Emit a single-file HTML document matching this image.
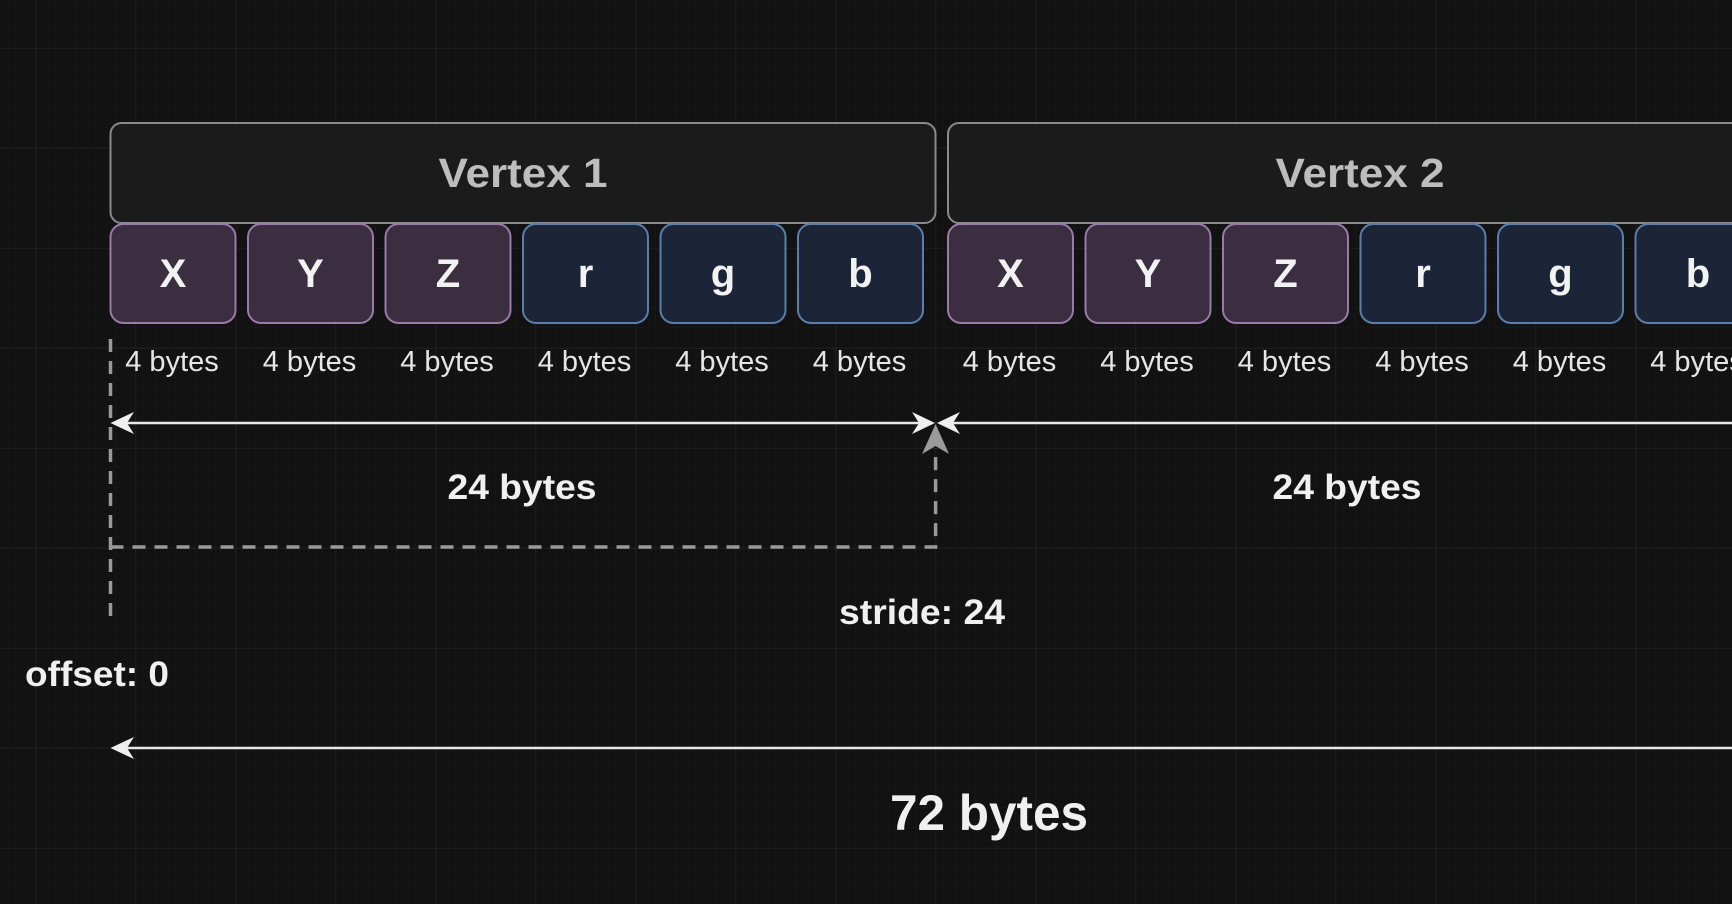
<!DOCTYPE html>
<html><head><meta charset="utf-8"><style>
html,body{margin:0;padding:0;background:#121212;}
svg{display:block;}
text{font-family:"Liberation Sans",Arial,sans-serif;}
</style></head><body>
<svg width="1732" height="904" viewBox="0 0 1732 904" xmlns="http://www.w3.org/2000/svg">
<defs>
<pattern id="minor" width="20" height="20" patternUnits="userSpaceOnUse" x="15.6" y="8">
<path d="M20 0V20M0 20H20" stroke="#191919" stroke-width="1" fill="none"/>
</pattern>
<pattern id="major" width="100" height="100" patternUnits="userSpaceOnUse" x="35.6" y="48">
<path d="M0 0V100M0 0H100" stroke="#232323" stroke-width="1.2" fill="none"/>
</pattern>
</defs>
<rect width="1732" height="904" fill="#121212"/>
<rect width="1732" height="904" fill="url(#minor)"/>
<rect width="1732" height="904" fill="url(#major)"/>

<rect x="110.5" y="123" width="825" height="100" rx="11" fill="#1b1b1b" stroke="#8a8a8a" stroke-width="2"/>
<text x="523" y="187" font-size="41" font-weight="bold" fill="#bdbdbd" text-anchor="middle" textLength="169" lengthAdjust="spacingAndGlyphs">Vertex 1</text>
<rect x="948" y="123" width="820" height="100" rx="11" fill="#1b1b1b" stroke="#8a8a8a" stroke-width="2"/>
<text x="1360" y="187" font-size="41" font-weight="bold" fill="#bdbdbd" text-anchor="middle" textLength="169" lengthAdjust="spacingAndGlyphs">Vertex 2</text>

<g font-size="40" font-weight="bold" fill="#f2f2f2" text-anchor="middle">
<rect x="110.5" y="224" width="125" height="99" rx="13" fill="#3a2e40" stroke="#9a7aa8" stroke-width="2"/>
<text x="173" y="287">X</text>
<rect x="248" y="224" width="125" height="99" rx="13" fill="#3a2e40" stroke="#9a7aa8" stroke-width="2"/>
<text x="310.5" y="287">Y</text>
<rect x="385.5" y="224" width="125" height="99" rx="13" fill="#3a2e40" stroke="#9a7aa8" stroke-width="2"/>
<text x="448" y="287">Z</text>
<rect x="523" y="224" width="125" height="99" rx="13" fill="#1c2537" stroke="#5b7eab" stroke-width="2"/>
<text x="585.5" y="287">r</text>
<rect x="660.5" y="224" width="125" height="99" rx="13" fill="#1c2537" stroke="#5b7eab" stroke-width="2"/>
<text x="723" y="287">g</text>
<rect x="798" y="224" width="125" height="99" rx="13" fill="#1c2537" stroke="#5b7eab" stroke-width="2"/>
<text x="860.5" y="287">b</text>
<rect x="948" y="224" width="125" height="99" rx="13" fill="#3a2e40" stroke="#9a7aa8" stroke-width="2"/>
<text x="1010.5" y="287">X</text>
<rect x="1085.5" y="224" width="125" height="99" rx="13" fill="#3a2e40" stroke="#9a7aa8" stroke-width="2"/>
<text x="1148" y="287">Y</text>
<rect x="1223" y="224" width="125" height="99" rx="13" fill="#3a2e40" stroke="#9a7aa8" stroke-width="2"/>
<text x="1285.5" y="287">Z</text>
<rect x="1360.5" y="224" width="125" height="99" rx="13" fill="#1c2537" stroke="#5b7eab" stroke-width="2"/>
<text x="1423" y="287">r</text>
<rect x="1498" y="224" width="125" height="99" rx="13" fill="#1c2537" stroke="#5b7eab" stroke-width="2"/>
<text x="1560.5" y="287">g</text>
<rect x="1635.5" y="224" width="125" height="99" rx="13" fill="#1c2537" stroke="#5b7eab" stroke-width="2"/>
<text x="1698" y="287">b</text>
</g>

<g font-size="29" fill="#e6e6e6" text-anchor="middle">
<text x="172" y="371">4 bytes</text>
<text x="309.5" y="371">4 bytes</text>
<text x="447" y="371">4 bytes</text>
<text x="584.5" y="371">4 bytes</text>
<text x="722" y="371">4 bytes</text>
<text x="859.5" y="371">4 bytes</text>
<text x="1009.5" y="371">4 bytes</text>
<text x="1147" y="371">4 bytes</text>
<text x="1284.5" y="371">4 bytes</text>
<text x="1422" y="371">4 bytes</text>
<text x="1559.5" y="371">4 bytes</text>
<text x="1697" y="371">4 bytes</text>
</g>

<g stroke="#9a9a9a" stroke-width="3.5" stroke-dasharray="13 9" fill="none">
<path d="M110.5 339V622"/>
<path d="M110.5 547H935.6V448"/>
</g>
<polygon points="935.6,424 922,454 935.6,446 949,454" fill="#9a9a9a"/>

<g stroke="#e8e8e8" stroke-width="2.5" fill="none">
<path d="M114 423H932"/>
<path d="M940 423H1732"/>
<path d="M114 748H1732"/>
</g>
<g fill="#efefef">
<polygon points="110.5,423 134,412 127,423 134,434"/>
<polygon points="935,423 912,412 919,423 912,434"/>
<polygon points="937,423 960,412 953,423 960,434"/>
<polygon points="110.5,748 134,737 127,748 134,759"/>
</g>

<g font-weight="bold" fill="#f0f0f0" text-anchor="middle" lengthAdjust="spacingAndGlyphs">
<text x="522" y="499" font-size="35" textLength="149" lengthAdjust="spacingAndGlyphs">24 bytes</text>
<text x="1347" y="499" font-size="35" textLength="149" lengthAdjust="spacingAndGlyphs">24 bytes</text>
<text x="922" y="624" font-size="35" textLength="166" lengthAdjust="spacingAndGlyphs">stride: 24</text>
<text x="97" y="686" font-size="35" textLength="144" lengthAdjust="spacingAndGlyphs">offset: 0</text>
<text x="989" y="830" font-size="50" textLength="198" lengthAdjust="spacingAndGlyphs">72 bytes</text>
</g>
</svg>
</body></html>
